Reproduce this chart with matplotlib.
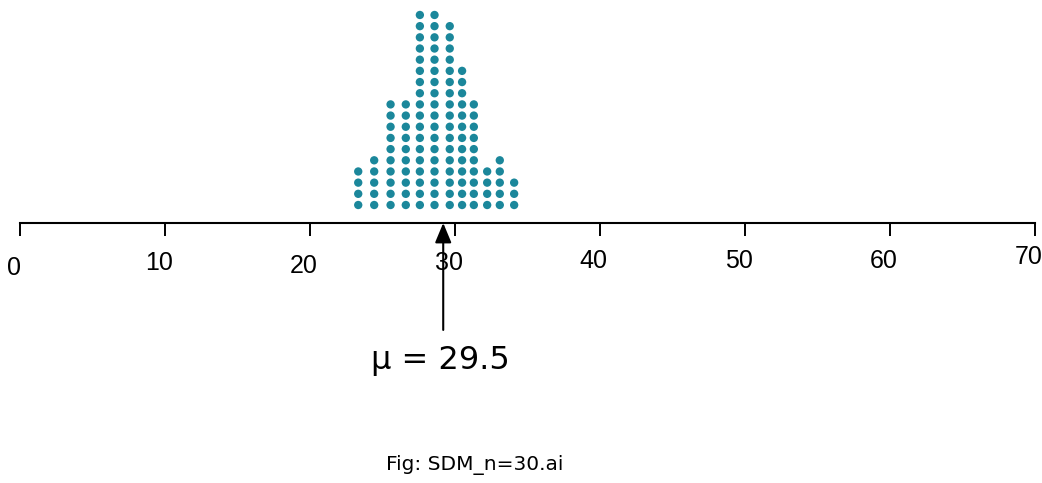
import numpy as np
import matplotlib
matplotlib.use("Agg")
import matplotlib.pyplot as plt
import matplotlib.transforms as mtransforms

plt.rcParams['font.family'] = ['Liberation Sans', 'DejaVu Sans']

# dot-plot columns: position on the scale and number of stacked dots
col_x = [23.34, 24.44, 25.57, 26.62, 27.59, 28.60, 29.65, 30.50, 31.31, 32.23, 33.10, 34.09]
col_n = [4, 5, 10, 10, 18, 18, 17, 13, 10, 4, 5, 3]
ticks = [0, 10, 20, 30, 40, 50, 60, 70]
mu = 29.5
arrow_x = 29.2
caption = "Fig: SDM_n=30.ai"

W, H = 1042, 483
fig = plt.figure(figsize=(W / 100, H / 100), dpi=100)
ax = fig.add_axes([19.7 / W, (H - 223) / H, (1035 - 19.7) / W, 223 / H])

xs, ys = [], []
for x, n in zip(col_x, col_n):
    for k in range(1, n + 1):
        xs.append(x)
        ys.append(k)
ax.scatter(xs, ys, s=36, color="#1b879b", edgecolors="none", zorder=3)

ax.set_xlim(0, 70)
ax.set_ylim(-0.61, 19.34)
for s in ["top", "left", "right"]:
    ax.spines[s].set_visible(False)
ax.spines["bottom"].set_linewidth(1.5)
ax.set_yticks([])
ax.set_xticks(ticks)
ax.set_xticklabels([str(t) for t in ticks])
ax.tick_params(axis="x", direction="out", length=9, width=1.4, pad=10, labelsize=18)

# labels in the original sit a little left of their ticks and not quite level
drop_px = [7, 2, 5, 2, 0, 0, 0, -4]
for lab, d in zip(ax.get_xticklabels(), drop_px):
    shift = mtransforms.ScaledTranslation(-6 / 100, -d / 100, fig.dpi_scale_trans)
    lab.set_transform(lab.get_transform() + shift)

ax.annotate("", xy=(arrow_x, -0.61), xycoords="data",
            xytext=(0, -77), textcoords="offset points",
            arrowprops=dict(arrowstyle="-|>,head_length=1.2,head_width=0.5",
                            color="black", lw=1.5, shrinkA=0, shrinkB=0),
            annotation_clip=False)

fig.text(440 / W, 1 - 360 / H, "μ = " + str(mu), ha="center", va="center",
         fontsize=23, family="DejaVu Sans")
fig.text(475 / W, 1 - 465 / H, caption, ha="center", va="center",
         fontsize=14.5, family="DejaVu Sans")

fig.savefig("out.png", dpi=100)
